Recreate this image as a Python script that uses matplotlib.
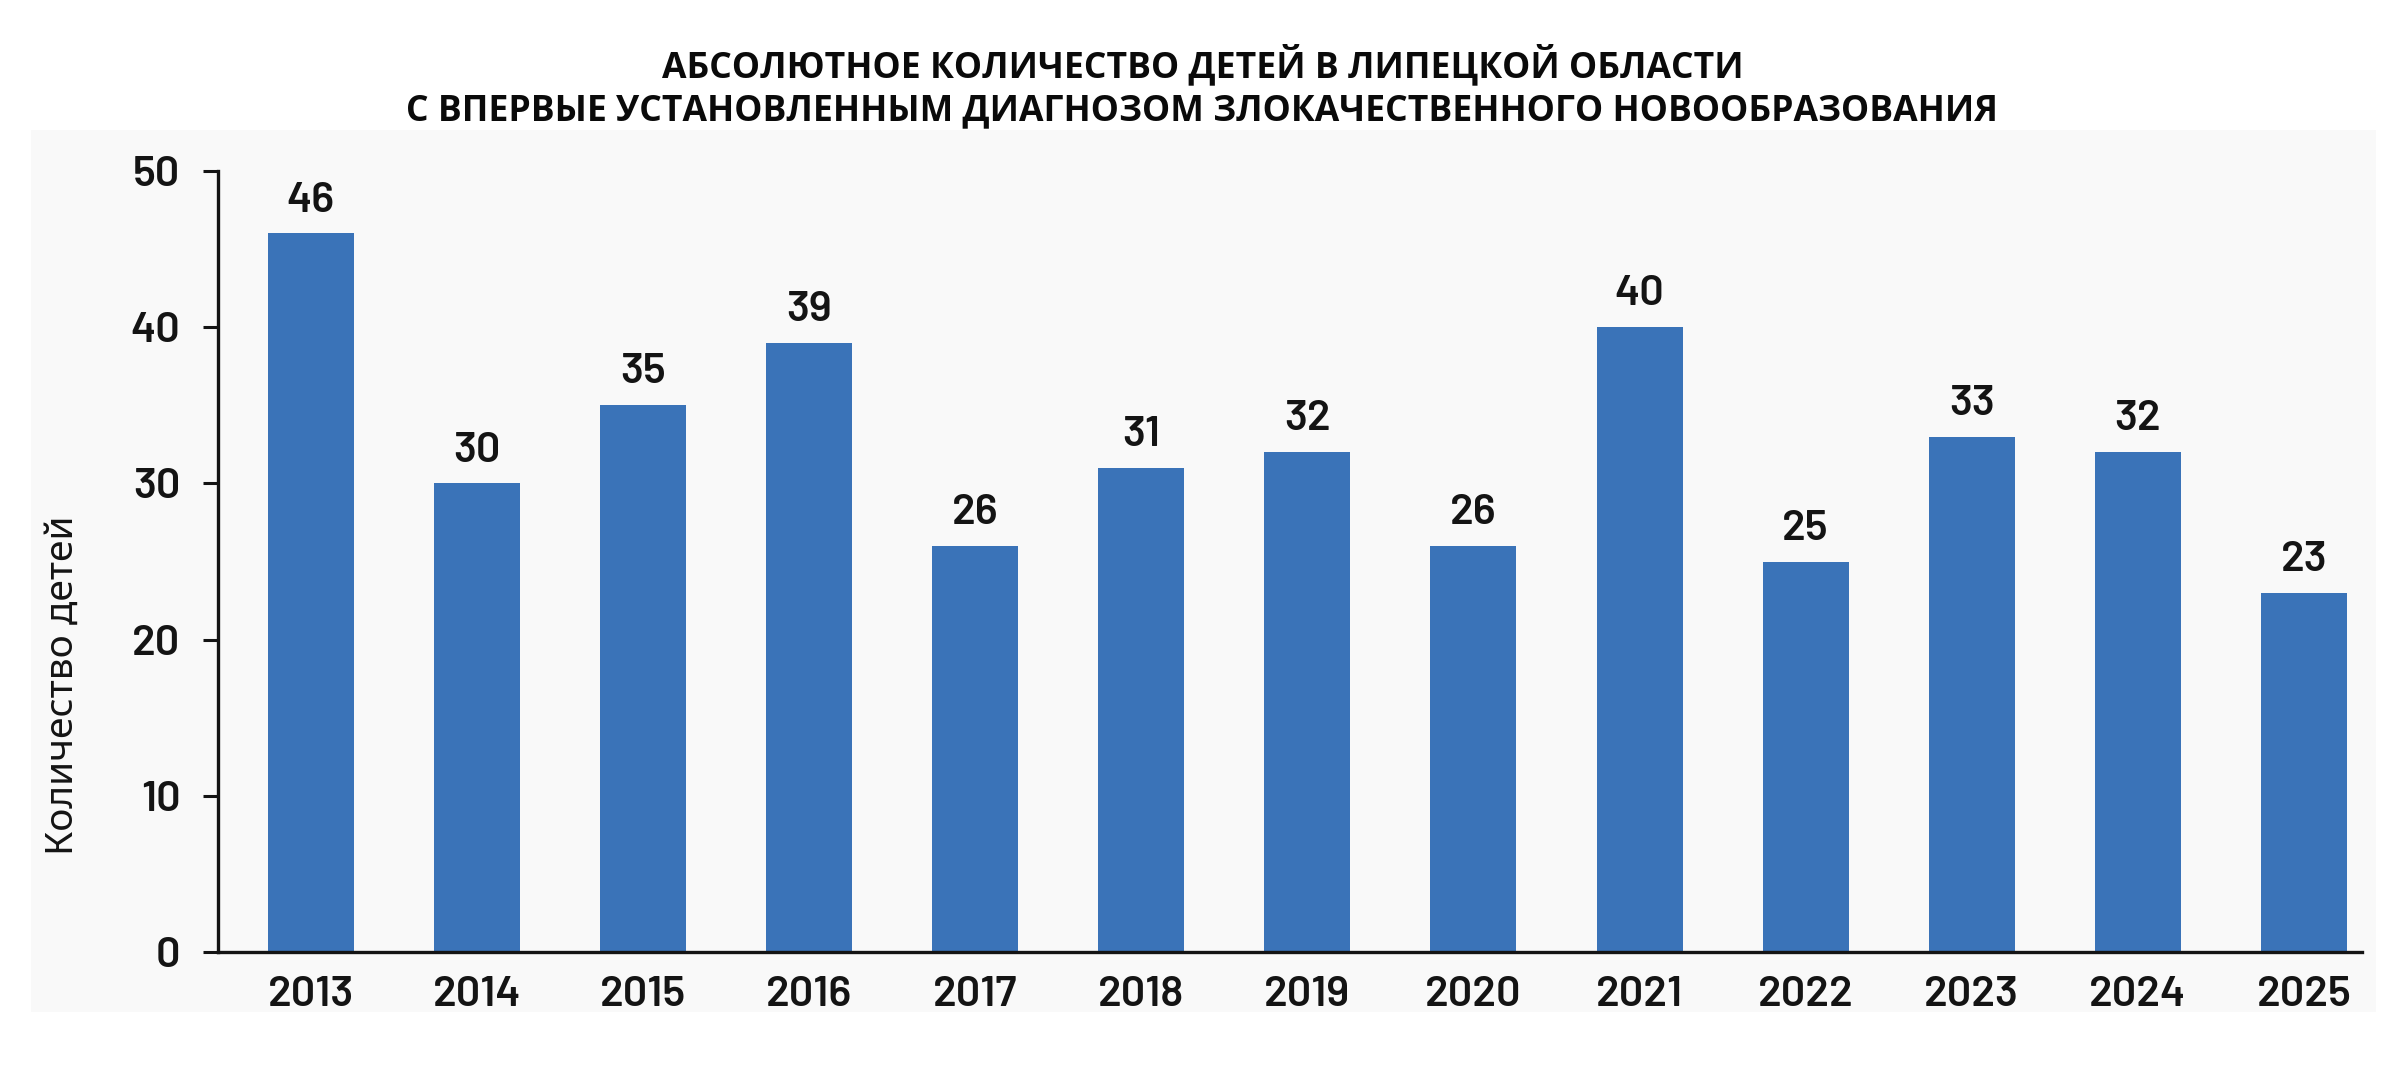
import matplotlib
matplotlib.use('Agg')
import matplotlib.pyplot as plt
from matplotlib.patches import Rectangle
import numpy as np

# ── fonts: bold sans for title, DIN-like face for numbers ──
TITLE_FONT = ['Open Sans', 'DejaVu Sans']
NUM_FONT = ['Barlow', 'Barlow Semi Condensed', 'IBM Plex Sans Condensed', 'DejaVu Sans']
LABEL_FONT = ['Noto Sans', 'DejaVu Sans']

# ── data ──
YEARS = ['2013', '2014', '2015', '2016', '2017', '2018', '2019',
         '2020', '2021', '2022', '2023', '2024', '2025']
COUNTS = [46, 30, 35, 39, 26, 31, 32, 26, 40, 25, 33, 32, 23]
Y_TICKS = [0, 10, 20, 30, 40, 50]

TITLE_1 = 'АБСОЛЮТНОЕ КОЛИЧЕСТВО ДЕТЕЙ В ЛИПЕЦКОЙ ОБЛАСТИ'
TITLE_2 = 'С ВПЕРВЫЕ УСТАНОВЛЕННЫМ ДИАГНОЗОМ ЗЛОКАЧЕСТВЕННОГО НОВООБРАЗОВАНИЯ'
YLABEL = 'Количество детей'
BAR_COLOR = '#3a73b8'
INK = '#141414'

fig = plt.figure(figsize=(24.05, 10.68), dpi=100)
# faint grey panel behind the chart area (scanned look of the original)
fig.patches.append(Rectangle((0.013, 0.052), 0.975, 0.826, transform=fig.transFigure,
                             facecolor='#f9f9f9', edgecolor='none', zorder=-10))

ax = fig.add_axes([0.0906, 0.1086, 0.8915, 0.7313])
ax.set_zorder(1)
ax.patch.set_alpha(0)

x = np.arange(len(YEARS))
bars = ax.bar(x, COUNTS, width=0.518, color=BAR_COLOR, zorder=2)
for bar, val in zip(bars, COUNTS):
    ax.annotate(f'{val}', (bar.get_x() + bar.get_width() / 2, bar.get_height()),
                textcoords='offset points', xytext=(0, 10), ha='center', va='bottom',
                fontsize=31, fontweight='semibold', family=NUM_FONT, color=INK)

ax.set_xlim(-0.56, len(YEARS) - 1 + 0.35)
ax.set_ylim(0, 50)
ax.set_xticks(x)
ax.set_xticklabels(YEARS)
ax.set_yticks(Y_TICKS)
ax.tick_params(axis='x', length=0, pad=17, labelsize=31, colors=INK)
ax.tick_params(axis='y', length=11, width=2.2, pad=16, labelsize=31, colors=INK)
for lbl in ax.get_xticklabels() + ax.get_yticklabels():
    lbl.set_family(NUM_FONT)
    lbl.set_fontweight('semibold')

for side in ['top', 'right']:
    ax.spines[side].set_visible(False)
for side in ['left', 'bottom']:
    ax.spines[side].set_linewidth(2.4)
    ax.spines[side].set_color(INK)

fig.text(0.026, 0.358, YLABEL, rotation=90, ha='center', va='center',
         fontsize=28, family=LABEL_FONT, color=INK, zorder=2)
fig.text(0.5, 0.939, TITLE_1, ha='center', va='center', fontsize=25.6,
         fontweight='bold', family=TITLE_FONT, color='#0a0a0a', zorder=2)
fig.text(0.5, 0.896, TITLE_2, ha='center', va='center', fontsize=25.6,
         fontweight='bold', family=TITLE_FONT, color='#0a0a0a', zorder=2)

fig.savefig('out.png', dpi=100, facecolor='white')
